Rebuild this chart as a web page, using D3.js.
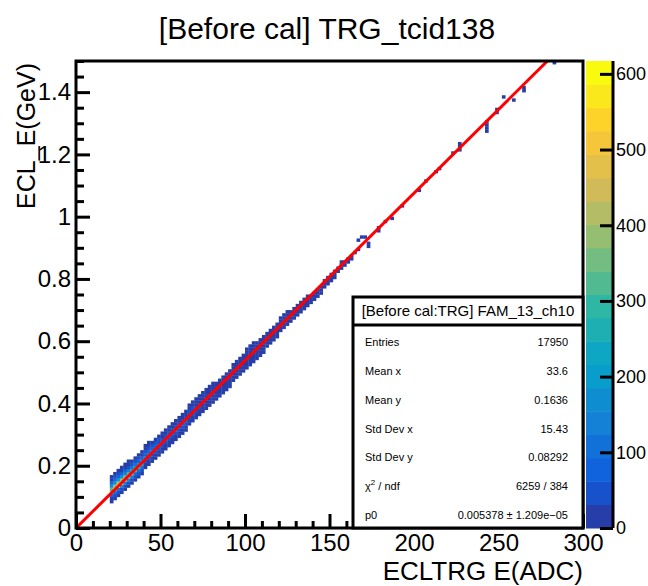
<!DOCTYPE html>
<html>
<head>
<meta charset="utf-8">
<script src="https://cdn.jsdelivr.net/npm/d3@7"></script>
<style>
  html, body { margin: 0; padding: 0; background: #fff; }
  svg { display: block; font-family: "Liberation Sans", Arial, sans-serif; }
</style>
</head>
<body>
<svg id="chart" width="648" height="586"></svg>
<script>
// ---------------- data ----------------
const chartTitle = "[Before cal] TRG_tcid138";
const xTitle = "ECLTRG E(ADC)";
const yTitle = "ECL_E(GeV)";
const xDomain = [0, 300];
const yDomain = [0, 1.5];
const zDomain = [0, 617];
const xTicks = [0, 50, 100, 150, 200, 250, 300];
const yTicks = [0, 0.2, 0.4, 0.6, 0.8, 1.0, 1.2, 1.4];
const zTicks = [0, 100, 200, 300, 400, 500, 600];
const xBinWidth = 2;
const yBinHeight = 0.01;

// dense band: column start (ADC), lowest filled y (GeV), counts upward
const colX = [20,22,24,26,28,30,32,34,36,38,40,42,44,46,48,50,52,54,56,58,60,62,64,66,68,70,72,74,76,78,80,82,84,86,88,90,92,94,96,98,100,102,104,106,108,110,112,114,116,118,120,122,124,126,128,130,132,134,136,138,140,142,144,146,148,150,152,154,156,158,160,162,164,166];
const colYLow = [0.08,0.09,0.10,0.11,0.12,0.13,0.14,0.15,0.16,0.17,0.19,0.20,0.21,0.22,0.23,0.24,0.25,0.26,0.27,0.28,0.29,0.30,0.31,0.33,0.34,0.35,0.36,0.37,0.38,0.39,0.40,0.41,0.42,0.43,0.44,0.45,0.47,0.48,0.49,0.50,0.51,0.52,0.53,0.54,0.55,0.56,0.58,0.59,0.60,0.61,0.63,0.64,0.65,0.66,0.67,0.68,0.69,0.70,0.71,0.72,0.73,0.74,0.75,0.77,0.78,0.79,0.80,0.82,0.83,0.84,0.85,0.86,0.88,0.89];
const colCounts = [
  [8,30,90,420,330,160,70,30,10],
  [10,40,110,560,400,180,80,34,12],
  [10,45,120,610,420,190,85,35,12],
  [12,48,125,590,400,175,75,30,10],
  [12,50,130,540,360,150,65,26,8],
  [12,50,130,480,310,130,55,20,6],
  [11,48,125,420,260,110,45,16],
  [10,45,115,360,220,95,38,13],
  [10,42,105,310,190,80,32,11],
  [9,40,95,270,165,68,27,9],
  [9,30,55,200,90,40,18,6],
  [8,28,52,180,80,38,16,6],
  [8,27,50,160,70,36,14],
  [7,26,48,145,64,34,13],
  [7,25,46,130,58,32,11],
  [6,24,44,118,55,30,10],
  [6,23,42,106,52,28,9],
  [5,22,40,96,50,26,8],
  [5,21,38,88,47,24,7],
  [5,20,37,80,45,22,6],
  [4,19,36,74,42,20,6],
  [4,18,35,68,40,18,5],
  [4,17,34,62,38,17,5],
  [4,18,40,56,34,15,4],
  [3,16,36,54,32,14,4],
  [3,15,34,50,30,13,3],
  [3,14,32,46,28,12,3],
  [3,13,30,43,26,11,3],
  [2,12,28,40,24,10,2],
  [2,11,26,37,22,9,2],
  [2,10,24,35,20,8,2],
  [2,10,22,32,19,8],
  [2,9,21,30,18,7],
  [1,8,20,28,16,6],
  [1,8,18,26,15,6],
  [1,7,17,24,14,5],
  [1,7,16,22,13,5],
  [1,6,15,21,12,4],
  [1,6,14,20,11,4],
  [1,5,13,19,10,3],
  [1,5,12,18,9,3,1],
  [1,5,11,17,9,3,1],
  [1,4,10,16,8,3,1],
  [1,4,10,15,7,2],
  [1,4,9,14,7,2],
  [1,3,8,13,6,2],
  [3,7,12,5,1],
  [2,7,11,5,1],
  [2,6,10,4,1],
  [2,6,9,4,1],
  [2,5,9,4,1],
  [1,5,8,3,1],
  [1,4,8,3,1],
  [1,4,7,3],
  [1,4,7,3],
  [1,3,6,2],
  [1,3,6,2],
  [1,3,5,2],
  [1,3,5,2],
  [2,4,2],
  [2,4,2],
  [2,3,1],
  [1,3,1],
  [1,3,1],
  [1,2,1],
  [1,2,1],
  [1,2,1],
  [2,1],
  [1,2,1],
  [1,1],
  [1,1],
  [1,1],
  [1],
  [1]
];

// isolated cells in the high-energy tail
const sparseX = [166,168,170,172,172,178,178,182,186,192,202,206,212,214,222,226,226,226,242,242,242,242,248,248,252,258,264,264,282];
const sparseY = [0.92,0.93,0.93,0.90,0.91,0.95,0.96,0.98,0.99,1.03,1.08,1.11,1.14,1.15,1.20,1.21,1.22,1.23,1.27,1.28,1.29,1.30,1.33,1.34,1.38,1.37,1.40,1.41,1.49];
const sparseN = [1,1,1,1,1,1,1,1,1,1,1,1,1,1,1,1,1,1,1,1,1,1,1,1,1,1,1,1,1];

// fit: pol1 through origin, p0
const fitP0 = 0.005378;

// stats box
const statsTitle = "[Before cal:TRG] FAM_13_ch10";
const statsLabels = ["Entries", "Mean x", "Mean y", "Std Dev x", "Std Dev y", "CHI2", "p0"];
const statsValues = ["17950", "33.6", "0.1636", "15.43", "0.08292", "6259 / 384", "0.005378 \u00b1 1.209e\u221205"];

// ROOT kBird palette stops
const birdStops = [0.0, 0.125, 0.25, 0.375, 0.5, 0.625, 0.75, 0.875, 1.0];
const birdR = [0.2082, 0.0592, 0.0780, 0.0232, 0.1802, 0.5301, 0.8186, 0.9956, 0.9764];
const birdG = [0.1664, 0.3599, 0.5041, 0.6419, 0.7178, 0.7492, 0.7328, 0.7862, 0.9832];
const birdB = [0.5293, 0.8684, 0.8385, 0.7914, 0.6425, 0.4662, 0.3499, 0.1968, 0.0539];
const nLevels = 20;
const nColors = 255;

// ---------------- layout ----------------
const frame = { left: 76, right: 583, top: 61, bottom: 528 };
const svg = d3.select("#chart");

const x = d3.scaleLinear().domain(xDomain).range([frame.left, frame.right]);
const y = d3.scaleLinear().domain(yDomain).range([frame.bottom, frame.top]);
const z = d3.scaleLinear().domain(zDomain).range([frame.bottom, frame.top]);

const birdScale = d3.scaleLinear().domain(birdStops)
  .range(birdStops.map((s, i) => d3.rgb(birdR[i] * 255, birdG[i] * 255, birdB[i] * 255)))
  .interpolate(d3.interpolateRgb);
// ROOT-style mapping of a contour level to a palette entry
const levelColor = k => birdScale(Math.floor((k + 0.99) * nColors / nLevels) / (nColors - 1));
const zStep = (zDomain[1] - zDomain[0]) / nLevels;
const countColor = c => levelColor(Math.min(nLevels - 1, Math.floor((c - zDomain[0]) / zStep)));

// build cells
const cells = [];
colX.forEach((cx, i) => {
  colCounts[i].forEach((n, k) => {
    cells.push({ x0: cx, y0: +(colYLow[i] + k * yBinHeight).toFixed(3), n });
  });
});
sparseX.forEach((sx, i) => cells.push({ x0: sx, y0: sparseY[i], n: sparseN[i] }));

svg.append("defs").append("clipPath").attr("id", "frameClip")
  .append("rect").attr("x", frame.left).attr("y", frame.top)
  .attr("width", frame.right - frame.left).attr("height", frame.bottom - frame.top);

const plot = svg.append("g").attr("clip-path", "url(#frameClip)");
plot.selectAll("rect.cell").data(cells).enter().append("rect")
  .attr("class", "cell")
  .attr("x", d => x(d.x0))
  .attr("y", d => y(d.y0 + yBinHeight))
  .attr("width", d => x(d.x0 + xBinWidth) - x(d.x0) + 0.3)
  .attr("height", d => y(d.y0) - y(d.y0 + yBinHeight) + 0.3)
  .attr("fill", d => countColor(d.n));

// fit line
const fitLine = d3.line().x(d => x(d)).y(d => y(fitP0 * d));
plot.append("path").datum([0, 300]).attr("d", fitLine)
  .attr("stroke", "#ff0000").attr("stroke-width", 3).attr("fill", "none");

// frame
svg.append("rect").attr("x", frame.left).attr("y", frame.top)
  .attr("width", frame.right - frame.left).attr("height", frame.bottom - frame.top)
  .attr("fill", "none").attr("stroke", "#000").attr("stroke-width", 3);

// axes
const xMinor = d3.range(0, 301, 10).filter(v => v % 50 !== 0);
const yMinor = d3.range(0, 31).map(i => +(i * 0.05).toFixed(2)).filter(v => Math.round(v * 100) % 20 !== 0);

function styleAxis(g) {
  g.select(".domain").remove();
  g.selectAll(".tick line").attr("stroke", "#000").attr("stroke-width", 3);
  g.selectAll(".tick text").attr("fill", "#000").attr("font-size", 24)
    .attr("font-family", "'Liberation Sans', Arial, sans-serif");
}

svg.append("g").attr("transform", `translate(0,${frame.bottom})`)
  .call(d3.axisBottom(x).tickValues(xMinor).tickSize(-7).tickFormat(""))
  .call(styleAxis);
svg.append("g").attr("transform", `translate(0,${frame.bottom})`)
  .call(d3.axisBottom(x).tickValues(xTicks).tickSize(-14).tickPadding(4).tickFormat(d3.format("d")))
  .call(styleAxis)
  .call(g => g.selectAll(".tick text").attr("dy", "0.78em"));

svg.append("g").attr("transform", `translate(${frame.left},0)`)
  .call(d3.axisLeft(y).tickValues(yMinor).tickSize(-8).tickFormat(""))
  .call(styleAxis);
svg.append("g").attr("transform", `translate(${frame.left},0)`)
  .call(d3.axisLeft(y).tickValues(yTicks).tickSize(-14).tickPadding(5)
    .tickFormat(d => String(+d.toFixed(1))))
  .call(styleAxis);

// titles
svg.append("text").attr("x", 327).attr("y", 39).attr("text-anchor", "middle")
  .attr("font-size", 30).attr("fill", "#000").text(chartTitle);
svg.append("text").attr("x", frame.right).attr("y", 580).attr("text-anchor", "end")
  .attr("font-size", 26).attr("fill", "#000").text(xTitle);
svg.append("text").attr("transform", `translate(35,${frame.top + 2}) rotate(-90)`)
  .attr("text-anchor", "end").attr("font-size", 25).attr("fill", "#000").text(yTitle);

// stats box
const sb = { left: 353, right: 583, top: 297, titleBottom: 325, bottom: 528 };
const stats = svg.append("g");
stats.append("rect").attr("x", sb.left).attr("y", sb.top)
  .attr("width", sb.right - sb.left).attr("height", sb.bottom - sb.top)
  .attr("fill", "#fff").attr("stroke", "#000").attr("stroke-width", 3);
stats.append("line").attr("x1", sb.left).attr("x2", sb.right)
  .attr("y1", sb.titleBottom).attr("y2", sb.titleBottom)
  .attr("stroke", "#000").attr("stroke-width", 3);
stats.append("text").attr("x", (sb.left + sb.right) / 2).attr("y", 316)
  .attr("text-anchor", "middle").attr("font-size", 15).attr("fill", "#000").text(statsTitle);
const rowY = d3.scalePoint().domain(statsLabels).range([346, 519]);
statsLabels.forEach((lab, i) => {
  const t = stats.append("text").attr("x", 365).attr("y", rowY(lab))
    .attr("font-size", 11).attr("fill", "#000");
  if (lab === "CHI2") {
    t.append("tspan").text("\u03c7");
    t.append("tspan").attr("dy", -5).attr("font-size", 8).text("2");
    t.append("tspan").attr("dy", 5).text(" / ndf");
  } else {
    t.text(lab);
  }
  stats.append("text").attr("x", 568).attr("y", rowY(lab)).attr("text-anchor", "end")
    .attr("font-size", 11).attr("fill", "#000").text(statsValues[i]);
});

// colour bar
const cb = { left: 586, right: 613 };
const bands = d3.range(nLevels);
svg.append("g").selectAll("rect").data(bands).enter().append("rect")
  .attr("x", cb.left)
  .attr("y", k => z(zDomain[0] + (k + 1) * zStep))
  .attr("width", cb.right - cb.left)
  .attr("height", k => z(zDomain[0] + k * zStep) - z(zDomain[0] + (k + 1) * zStep) + 0.5)
  .attr("fill", k => levelColor(k));
svg.append("g").attr("transform", `translate(${cb.right},0)`)
  .call(d3.axisRight(z).tickValues(zTicks).tickSize(-13).tickPadding(3).tickFormat(d3.format("d")))
  .call(g => g.select(".domain").attr("stroke", "#000").attr("stroke-width", 3)
    .attr("d", `M0,${frame.top}V${frame.bottom}`))
  .call(g => g.selectAll(".tick line").attr("stroke", "#000").attr("stroke-width", 3))
  .call(g => g.selectAll(".tick text").attr("fill", "#000").attr("font-size", 18)
    .attr("font-family", "'Liberation Sans', Arial, sans-serif"));
</script>
</body>
</html>
